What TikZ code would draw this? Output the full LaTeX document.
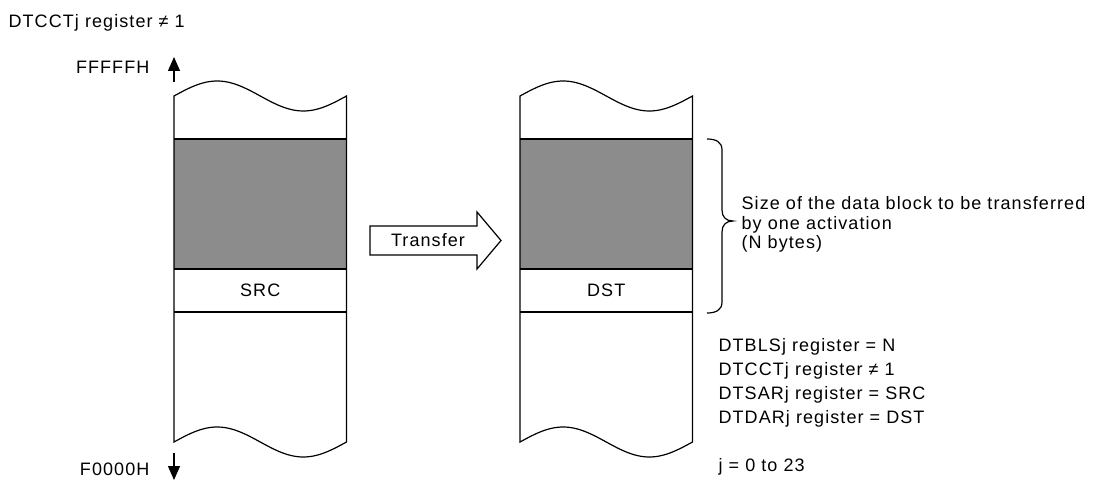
\documentclass[tikz,border=0pt]{standalone}
\usepackage{fontspec}
\setmainfont{Liberation Sans}[LetterSpace=6]
\usetikzlibrary{arrows.meta}
\definecolor{blockgray}{RGB}{140,140,140}
\begin{document}
\begin{tikzpicture}[x=1pt,y=-1pt,line width=1.2pt,
  lbl/.style={inner sep=0pt,font=\fontsize{18}{21}\selectfont},
  addrarrow/.style={-{Triangle[length=14pt,width=12pt]}},
  colline/.style={line width=1.2pt}]
\useasboundingbox (0,0) rectangle (1098,481);

% memory columns
\foreach \ox/\lab/\nm in {174/SRC/src,520/DST/dst}{
  \begin{scope}[xshift=\ox]
    \fill[blockgray] (0,139) rectangle (172.5,269);
    \draw[colline] (0,139) -- (172.5,139);
    \draw[colline] (0,269) -- (172.5,269);
    \draw[colline] (0,312) -- (172.5,312);
    \draw[colline] plot[domain=0:172.5,samples=60,smooth] (\x,{96-15*sin(\x/172.5*360)})
       -- plot[domain=172.5:0,samples=60,smooth] (\x,{442-15*sin(\x/172.5*360)}) -- cycle;
    \node[lbl] (\nm) at (86.25,290) {\lab};
  \end{scope}
}

% address arrows
\coordinate (ta0) at (174,82);
\coordinate (ta1) at (174,57);
\draw[addrarrow] (ta0) -- (ta1);
\coordinate (ba0) at (174,453);
\coordinate (ba1) at (174,480);
\draw[addrarrow] (ba0) -- (ba1);

\node[lbl,anchor=base west] (title) at (8,28) {DTCCTj register ≠ 1};
\node[lbl,anchor=base east] (ftop) at (150,74) {FFFFFH};
\node[lbl,anchor=base east] (fbot) at (150,475) {F0000H};

% transfer arrow
\draw[fill=white] (370,226) -- (477,226) -- (477,212) -- (501,240.5) -- (477,269) -- (477,255) -- (370,255) -- cycle;
\node[lbl] (transfer) at (428,240.5) {Transfer};

% brace
\draw (707,139) .. controls (716,139) and (722,142) .. (722,150) -- (722,210)
  .. controls (722,217) and (726,221) .. (733,221)
  .. controls (726,221) and (722,225) .. (722,232) -- (722,302)
  .. controls (722,310) and (716,313) .. (707,313);

\node[lbl,anchor=north west,align=left,font=\fontsize{18}{19.5}\selectfont] (size) at (741,196)
  {Size of the data block to be transferred\\by one activation\\(N bytes)};

\node[lbl,anchor=north west,align=left,font=\fontsize{18}{24}\selectfont] (regs) at (718,338)
  {DTBLSj register = N\\DTCCTj register ≠ 1\\DTSARj register = SRC\\DTDARj register = DST\\[24pt]j = 0 to 23};
\end{tikzpicture}
\end{document}
